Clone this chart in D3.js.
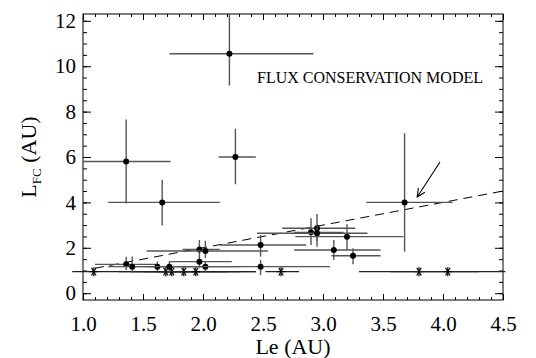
<html>
    <head>
        <script src="https://d3js.org/d3.v7.min.js"></script>
        <style type="text/css">
        body {
            margin: 0;
            background-color: white;
        }
        </style>
    </head>
    <body>
        <script>
// filled points: position and error bar ends (AU)
let ptX   = [2.22, 2.27, 1.36, 1.66, 3.68, 1.36, 1.41, 1.62, 1.72, 1.97, 2.02, 1.97, 2.02, 2.48, 2.48, 2.90, 2.95, 2.95, 3.20, 3.09, 3.25];
let ptY   = [10.55, 6.0, 5.8, 4.0, 4.0, 1.27, 1.17, 1.17, 1.17, 1.93, 1.86, 1.39, 1.17, 2.12, 1.17, 2.68, 2.86, 2.64, 2.49, 1.90, 1.65];
let ptXLo = [1.72, 2.13, 1.00, 1.21, 3.36, 1.10, 1.21, 1.45, 1.55, 1.83, 1.53, 1.72, 1.80, 2.14, 2.00, 2.76, 2.66, 2.45, 2.77, 2.76, 3.07];
let ptXHi = [2.92, 2.44, 1.73, 2.14, 4.08, 1.61, 2.00, 1.80, 1.90, 2.14, 2.54, 2.24, 2.30, 2.86, 3.06, 3.17, 3.27, 3.37, 3.67, 3.48, 3.48];
let ptYLo = [9.15, 4.80, 3.95, 2.98, 1.83, 1.02, 0.92, 0.98, 0.92, 1.60, 1.54, 1.12, 0.95, 1.61, 0.80, 2.12, 2.05, 2.30, 1.90, 1.46, 1.27];
let ptYHi = [12.3, 7.25, 7.65, 5.00, 7.05, 1.61, 1.62, 1.40, 1.40, 2.34, 2.31, 1.62, 1.40, 2.56, 1.46, 3.30, 3.49, 2.95, 3.04, 2.34, 1.98];

// asterisks: position and horizontal error bar ends (AU)
let starX   = [1.09, 1.69, 1.74, 1.84, 1.94, 2.65, 3.80, 4.04];
let starY   = [0.95, 0.95, 0.95, 0.95, 0.95, 0.95, 0.95, 0.95];
let starXLo = [0.91, 1.30, 1.40, 1.50, 1.60, 2.52, 3.30, 3.56];
let starXHi = [1.90, 2.20, 2.30, 2.44, 2.44, 2.80, 4.30, 4.52];

// equality line Le = L_FC
let lineX = [1.1, 4.5];

// arrow pointing at the marked event
let arrowX = [3.975, 3.785];
let arrowY = [5.78, 4.24];

let xTicks = [1.0, 1.5, 2.0, 2.5, 3.0, 3.5, 4.0, 4.5];
let yTicks = [0, 2, 4, 6, 8, 10, 12];
let title = "FLUX CONSERVATION MODEL";

let serif = "'Liberation Serif', 'Times New Roman', Times, serif";

function init() {
    let width = 536;
    let height = 358;

    let svg = d3.select("body").append("svg")
        .attr("width", width)
        .attr("height", height);

    let xScale = d3.scaleLinear().domain([1.0, 4.5]).range([83, 503]);
    let yScale = d3.scaleLinear().domain([-0.3, 12.3]).range([300, 14]);

    let xMinor = d3.range(10, 46).map(d => d / 10);
    let yMinor = d3.range(0, 25).map(d => d / 2);

    // axes, ticks pointing inward on all four sides
    let axes = svg.append("g");
    axes.append("g")
        .attr("transform", "translate(0,300)")
        .call(d3.axisBottom(xScale).tickValues(xTicks).tickSize(-6).tickSizeOuter(0)
            .tickPadding(16).tickFormat(d3.format(".1f")));
    axes.append("g")
        .attr("transform", "translate(0,300)")
        .call(d3.axisBottom(xScale).tickValues(xMinor).tickSize(-3).tickSizeOuter(0).tickFormat(""));
    axes.append("g")
        .attr("transform", "translate(0,14)")
        .call(d3.axisTop(xScale).tickValues(xTicks).tickSize(-6).tickSizeOuter(0).tickFormat(""));
    axes.append("g")
        .attr("transform", "translate(0,14)")
        .call(d3.axisTop(xScale).tickValues(xMinor).tickSize(-3).tickSizeOuter(0).tickFormat(""));
    axes.append("g")
        .attr("transform", "translate(83,0)")
        .call(d3.axisLeft(yScale).tickValues(yTicks).tickSize(-8).tickSizeOuter(0).tickPadding(7));
    axes.append("g")
        .attr("transform", "translate(83,0)")
        .call(d3.axisLeft(yScale).tickValues(yMinor).tickSize(-4).tickSizeOuter(0).tickFormat(""));
    axes.append("g")
        .attr("transform", "translate(503,0)")
        .call(d3.axisRight(yScale).tickValues(yTicks).tickSize(-8).tickSizeOuter(0).tickFormat(""));
    axes.append("g")
        .attr("transform", "translate(503,0)")
        .call(d3.axisRight(yScale).tickValues(yMinor).tickSize(-4).tickSizeOuter(0).tickFormat(""));
    axes.selectAll(".domain").remove();
    axes.selectAll("g").attr("font-family", null).attr("font-size", null);
    axes.selectAll("text")
        .attr("fill", "#000")
        .style("font-size", "21px")
        .style("font-family", serif);
    axes.selectAll("line").attr("stroke", "#000");

    svg.append("rect")
        .attr("x", 83).attr("y", 14)
        .attr("width", 420).attr("height", 286)
        .attr("fill", "none")
        .attr("stroke", "#000")
        .attr("stroke-width", 1);

    // equality line
    svg.append("line")
        .attr("x1", xScale(lineX[0])).attr("y1", yScale(lineX[0]))
        .attr("x2", xScale(lineX[1])).attr("y2", yScale(lineX[1]))
        .attr("stroke", "#000")
        .attr("stroke-width", 1)
        .attr("stroke-dasharray", "9,6");

    // asterisk error bars
    let stars = svg.append("g").selectAll("g")
        .data(starX.map((d, i) => i))
        .enter()
        .append("g");
    stars.append("line")
        .attr("x1", i => xScale(starXLo[i])).attr("x2", i => xScale(starXHi[i]))
        .attr("y1", i => yScale(starY[i])).attr("y2", i => yScale(starY[i]))
        .attr("stroke", "#222")
        .attr("stroke-width", 1.2);
    [0, 60, 120, 90].forEach(function(a) {
        let r = 4.5;
        let dx = r * Math.cos(a * Math.PI / 180);
        let dy = r * Math.sin(a * Math.PI / 180);
        stars.append("line")
            .attr("x1", i => xScale(starX[i]) - dx).attr("x2", i => xScale(starX[i]) + dx)
            .attr("y1", i => yScale(starY[i]) - dy).attr("y2", i => yScale(starY[i]) + dy)
            .attr("stroke", "#000")
            .attr("stroke-width", 1.2);
    });

    // points with error bars
    let pts = svg.append("g").selectAll("g")
        .data(ptX.map((d, i) => i))
        .enter()
        .append("g");
    pts.append("line")
        .attr("x1", i => xScale(ptXLo[i])).attr("x2", i => xScale(ptXHi[i]))
        .attr("y1", i => yScale(ptY[i])).attr("y2", i => yScale(ptY[i]))
        .attr("stroke", "#555")
        .attr("stroke-width", 1.4);
    pts.append("line")
        .attr("x1", i => xScale(ptX[i])).attr("x2", i => xScale(ptX[i]))
        .attr("y1", i => yScale(ptYLo[i])).attr("y2", i => yScale(ptYHi[i]))
        .attr("stroke", "#555")
        .attr("stroke-width", 1.4);
    pts.append("circle")
        .attr("cx", i => xScale(ptX[i]))
        .attr("cy", i => yScale(ptY[i]))
        .attr("r", 3)
        .attr("fill", "#000");

    // arrow
    let ax0 = xScale(arrowX[0]), ay0 = yScale(arrowY[0]);
    let ax1 = xScale(arrowX[1]), ay1 = yScale(arrowY[1]);
    let ang = Math.atan2(ay0 - ay1, ax0 - ax1);
    let head = 9;
    svg.append("path")
        .attr("d", "M" + ax0 + "," + ay0 + "L" + ax1 + "," + ay1
            + "M" + (ax1 + head * Math.cos(ang + 0.45)) + "," + (ay1 + head * Math.sin(ang + 0.45))
            + "L" + ax1 + "," + ay1
            + "L" + (ax1 + head * Math.cos(ang - 0.45)) + "," + (ay1 + head * Math.sin(ang - 0.45)))
        .attr("fill", "none")
        .attr("stroke", "#000")
        .attr("stroke-width", 1.1);

    svg.append("text")
        .attr("x", 257)
        .attr("y", 83)
        .style("font-family", serif)
        .style("font-size", "16px")
        .text(title);

    svg.append("text")
        .attr("x", 293)
        .attr("y", 354)
        .style("font-family", serif)
        .style("font-size", "22px")
        .attr("text-anchor", "middle")
        .text("Le (AU)");

    let ylab = svg.append("text")
        .attr("transform", "translate(36,157) rotate(-90)")
        .style("font-family", serif)
        .style("font-size", "22px")
        .attr("text-anchor", "middle");
    ylab.append("tspan").text("L");
    ylab.append("tspan").style("font-size", "13px").attr("dy", 5).text("FC");
    ylab.append("tspan").attr("dy", -5).text(" (AU)");
}
init();
        </script>
    </body>
</html>
